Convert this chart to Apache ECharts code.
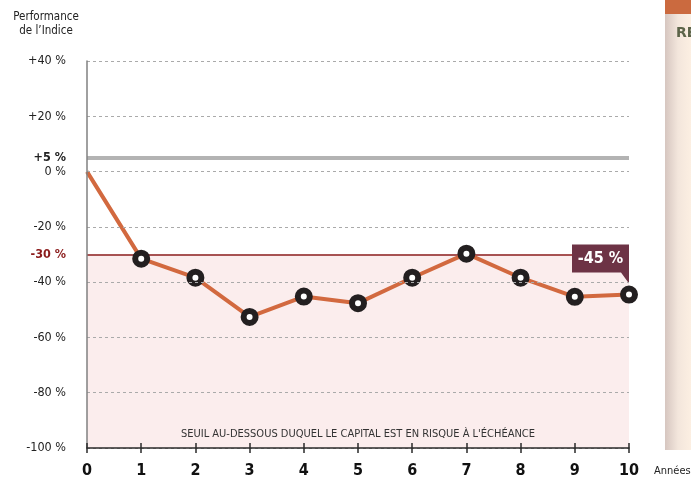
<!DOCTYPE html>
<html>
<head>
<meta charset="utf-8">
<script src="https://cdn.jsdelivr.net/npm/echarts@6/dist/echarts.min.js"></script>
<style>html,body{margin:0;padding:0;background:#fff}#c{width:691px;height:482px}</style>
</head>
<body>
<div id="c"></div>
<script>
const years = [0,1,2,3,4,5,6,7,8,9,10];
const performance = [0,-31.5,-38.4,-52.6,-45.2,-47.6,-38.4,-29.7,-38.4,-45.3,-44.5];
const yTicks = [-100,-80,-60,-40,-20,0,20,40];
const upperLevel = 5;
const barrierLevel = -30;
const calloutText = '-45 %';
const zoneText = "SEUIL AU-DESSOUS DUQUEL LE CAPITAL EST EN RISQUE À L'ÉCHÉANCE";
const FONT = "'Liberation Sans Narrow','DejaVu Sans Condensed',sans-serif";

const chart = echarts.init(document.getElementById('c'));
const lineData = years.map((x,i)=>{
  const d = {value:[x, performance[i]]};
  if (i === 0) d.symbol = 'none';
  return d;
});
const fmtPct = v => (v>0?'+':'') + v + ' %';

chart.setOption({
  animation:false,
  textStyle:{fontFamily:FONT},
  grid:{left:87, right:62, top:61, bottom:34},
  xAxis:[{
    type:'value', min:0, max:10, interval:1, z:10,
    axisLine:{show:true, onZero:false, lineStyle:{color:'#2b2b2b', width:1.5}},
    axisTick:{show:true, length:5, lineStyle:{color:'#2b2b2b', width:1.5}},
    axisLabel:{margin:15, fontSize:16, fontWeight:'bold', color:'#111', fontFamily:FONT},
    splitLine:{show:false}
  },{
    type:'value', min:0, max:10, interval:1, position:'bottom', z:10,
    axisLine:{show:false, onZero:false},
    axisTick:{show:true, inside:true, length:5, lineStyle:{color:'#2b2b2b', width:1.5}},
    axisLabel:{show:false}, splitLine:{show:false}
  }],
  yAxis:{
    type:'value', min:-100, max:40, interval:20, z:10,
    axisLine:{show:true, onZero:false, lineStyle:{color:'#808080', width:1.5}},
    axisTick:{show:false},
    axisLabel:{margin:21, fontSize:12.5, color:'#222', fontFamily:FONT,
      formatter: v => yTicks.includes(v) ? fmtPct(v) : ''},
    splitLine:{show:true, lineStyle:{color:'#aaa', type:[3,3], width:1}}
  },
  series:[{
    type:'line',
    data:lineData,
    lineStyle:{color:'#d2693f', width:4},
    itemStyle:{color:'#ffffff', borderColor:'#231f20', borderWidth:6},
    symbol:'circle', symbolSize:12,
    z:5,
    markArea:{
      silent:true,
      itemStyle:{color:'#fbeded'},
      label:{show:true, position:'insideBottom', distance:8, color:'#333', fontSize:11, fontFamily:FONT},
      data:[[{yAxis:barrierLevel, name:zoneText},{yAxis:-100}]]
    },
    markLine:{
      silent:true, symbol:'none',
      data:[
        {yAxis:upperLevel, lineStyle:{color:'#b3b3b3', width:4, type:'solid'},
          label:{position:'start', distance:21, formatter:fmtPct(upperLevel), fontWeight:'bold', fontSize:12.5, color:'#222', fontFamily:FONT}},
        {yAxis:barrierLevel, lineStyle:{color:'#8b1c1c', width:1.5, type:'solid'},
          label:{position:'start', distance:21, formatter:fmtPct(barrierLevel), fontWeight:'bold', fontSize:12.5, color:'#8b1c1c', fontFamily:FONT}}
      ]
    },
    markPoint:{
      silent:true,
      data:[{
        coord:[years[10], performance[10]],
        symbol:'path://M0,0 L57,0 L57,39 L49,28 L0,28 Z',
        symbolSize:[57,39],
        symbolKeepAspect:false,
        symbolOffset:[-28.5,-30.5],
        itemStyle:{color:'#6d3345'},
        label:{show:true, formatter:calloutText, color:'#fff', fontWeight:'bold', fontSize:16, fontFamily:FONT,
          position:'inside', offset:[0,-5]}
      }]
    }
  }],
  graphic:[
    {type:'text', x:46, y:10, style:{text:'Performance\nde l\u2019Indice', fontSize:11.5, lineHeight:14, fill:'#222', align:'center', fontFamily:FONT}},
    {type:'text', x:654, y:466, style:{text:'Années', fontSize:11, fill:'#222', fontFamily:FONT}},
    {type:'rect', shape:{x:665, y:14, width:26, height:436},
      style:{fill:{type:'linear', x:0, y:0, x2:1, y2:0, colorStops:[{offset:0, color:'#d6c6c0'},{offset:0.5, color:'#f3e6dc'},{offset:1, color:'#fcefe2'}]}}},
    {type:'rect', shape:{x:665, y:0, width:26, height:14}, style:{fill:'#cb6a3f'}},
    {type:'text', x:676, y:26, style:{text:'RE', fontSize:14, fontWeight:'bold', fill:'#5c6449', fontFamily:'DejaVu Sans'}}
  ]
});
</script>
</body>
</html>
